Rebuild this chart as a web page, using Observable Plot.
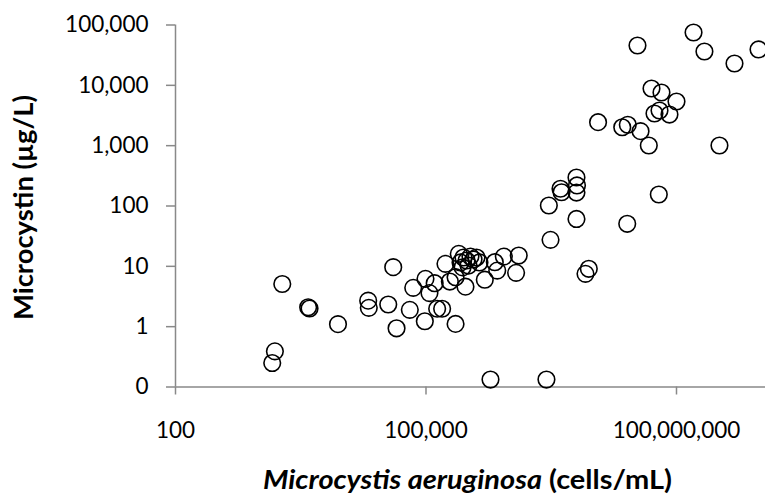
<!DOCTYPE html>
<html>
<head>
<meta charset="utf-8">
<script src="https://cdn.jsdelivr.net/npm/d3@7"></script>
<script src="https://cdn.jsdelivr.net/npm/@observablehq/plot@0.6"></script>
<style>
html, body { margin: 0; padding: 0; background: #fff; }
#chart svg { display: block; }
</style>
</head>
<body>
<div id="chart"></div>
<script>
// Microcystis aeruginosa cell density (cells/mL)
const cellsPerML = [
  1440, 1550, 1900, 3880, 4030, 8830, 20300, 20650, 35300, 40500,
  44400, 64000, 70300, 96800, 98600, 110000, 127000, 136000, 156000, 226000,
  171000, 193000, 226000, 247000, 297000, 506000, 667000, 713000, 855000, 1290000,
  1200000,
  259000, 281000, 306000, 341000, 371000, 403000, 323000, 274000, 437000,
  592000, 2770000,
  2960000, 3100000, 4080000, 4200000, 6340000, 6430000, 6340000, 6340000, 8130000, 8910000,
  25700000, 61400000,
  11500000, 22400000, 26100000, 37100000, 46600000, 50200000, 66100000, 100000000, 62600000,
  54500000, 82400000, 327000000, 34100000, 160000000, 216000000, 495000000, 960000000
];
// Microcystin (µg/L), same order
const microcystin = [
  0.25, 0.39, 5.1, 2.1, 2.0, 1.1, 2.7, 2.05, 2.33, 9.7,
  0.94, 1.9, 4.4, 1.23, 6.2, 3.6, 5.25, 1.98, 1.98, 1.11,
  11.0, 5.6, 6.6, 16.1, 4.6, 6.0, 11.7, 8.5, 14.5, 15.1,
  7.8,
  11.6, 14.0, 12.5, 14.5, 13.0, 14.0, 10.3, 9.6, 11.6,
  0.133, 0.133,
  102, 27.5, 193, 169, 297, 219, 167, 61, 7.5, 9.1,
  50.7, 155,
  2450, 2020, 2220, 1740, 1006, 8860, 7610, 5400, 3830,
  3410, 3280, 1006, 45700, 75100, 36400, 23000, 39300
];
const xTicks = [100, 100000, 100000000];
const xTickLabels = ["100", "100,000", "100,000,000"];
const yTicks = [0.1, 1, 10, 100, 1000, 10000, 100000];
const yTickLabels = ["0", "1", "10", "100", "1,000", "10,000", "100,000"];
const xTitleItalic = "Microcystis aeruginosa";
const xTitleRest = " (cells/mL)";
const yTitle = "Microcystin (µg/L)";

const data = cellsPerML.map((c, i) => ({cells: c, toxin: microcystin[i]}));

const W = 765, H = 496;
const mL = 175, mR = 0, mT = 24.5, mB = 109.5;
const axisColor = "#898989";
const fontFamily = "Lato, 'Open Sans', sans-serif";
const fs = 22.5;
const titleFs = 27;

const plot = Plot.plot({
  width: W,
  height: H,
  marginLeft: mL,
  marginRight: mR,
  marginTop: mT,
  marginBottom: mB,
  style: {fontFamily, fontSize: fs + "px", color: "#000", background: "#fff"},
  x: {type: "log", domain: [100, 1.164e9]},
  y: {type: "log", domain: [0.1, 100000]},
  marks: [
    Plot.ruleY([0.1], {stroke: axisColor, strokeWidth: 1.5}),
    Plot.ruleX([100], {stroke: axisColor, strokeWidth: 1.5}),
    Plot.axisX({
      ticks: xTicks,
      tickFormat: d => xTickLabels[xTicks.indexOf(d)],
      tickSize: 8,
      tickPadding: 27,
      stroke: axisColor,
      strokeWidth: 1.5,
      fill: "#000",
      label: null
    }),
    Plot.axisY({
      ticks: yTicks,
      tickFormat: d => yTickLabels[yTicks.indexOf(d)],
      tickSize: 9,
      tickPadding: 18,
      stroke: axisColor,
      strokeWidth: 1.5,
      fill: "#000",
      label: null
    }),
    Plot.dot(data, {x: "cells", y: "toxin", r: 8.3, stroke: "#000", strokeWidth: 1.6, fill: "none"})
  ]
});

const svg = d3.select(plot);
const xt = svg.append("text")
  .attr("x", 467.5)
  .attr("y", 488.5)
  .attr("text-anchor", "middle")
  .attr("font-weight", "bold")
  .attr("font-size", titleFs)
  .attr("fill", "#000")
  .attr("textLength", 409)
  .attr("lengthAdjust", "spacingAndGlyphs");
xt.append("tspan").attr("font-style", "italic").text(xTitleItalic);
xt.append("tspan").text(xTitleRest);

svg.append("text")
  .attr("transform", "translate(33," + ((mT + (H - mB)) / 2 + 2) + ") rotate(-90)")
  .attr("text-anchor", "middle")
  .attr("font-weight", "bold")
  .attr("font-size", titleFs)
  .attr("fill", "#000")
  .attr("textLength", 225)
  .attr("lengthAdjust", "spacingAndGlyphs")
  .text(yTitle);

document.getElementById("chart").appendChild(plot);
</script>
</body>
</html>
